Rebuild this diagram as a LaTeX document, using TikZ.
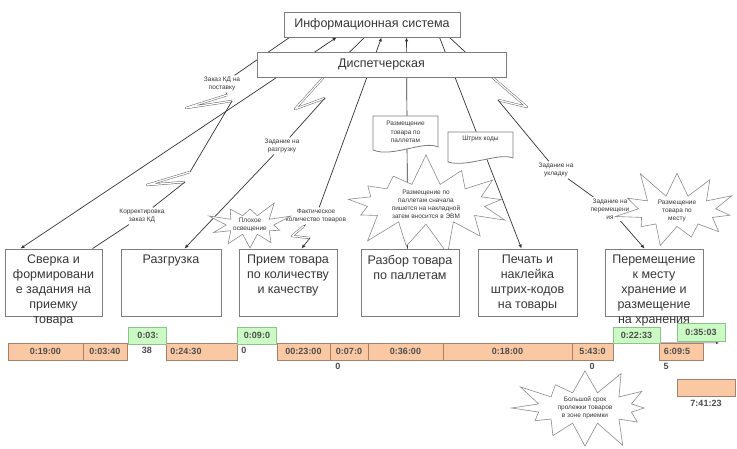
\documentclass[tikz,border=0pt]{standalone}
\usepackage{fontspec}
\setmainfont{Liberation Sans}
\usetikzlibrary{shapes.symbols,arrows.meta,calc,backgrounds}
\definecolor{peach}{RGB}{250,201,163}
\definecolor{peachline}{RGB}{160,130,110}
\definecolor{lgreen}{RGB}{204,250,196}
\definecolor{greenline}{RGB}{140,195,135}
\definecolor{boxline}{RGB}{125,125,125}
\definecolor{txt}{RGB}{55,55,55}
\begin{document}
\begin{tikzpicture}[x=1pt,y=-1pt,
  proc/.style={draw=boxline, line width=0.9pt, fill=white, inner sep=0pt},
  bigtext/.style={font=\fontsize{12.5}{15}\selectfont, text=txt},
  ptext/.style={font=\fontsize{12.5}{15}\selectfont, text=txt, align=center, anchor=north, inner sep=0pt},
  lbl/.style={font=\fontsize{6.5}{8}\selectfont, text=txt, align=center, fill=white, inner sep=1.5pt},
  conn/.style={draw=black!80, line width=0.7pt},
  zig/.style={draw=black!65, line width=0.45pt, double=white, double distance=1.3pt, line join=round},
  tipA/.style={-{Latex[length=4pt,width=3.5pt]}},
  tipB/.style={{Latex[length=4pt,width=3.5pt]}-},
  tipC/.style={{Latex[length=4pt,width=3.5pt]}-{Latex[length=4pt,width=3.5pt]}},
  burst/.style={starburst, draw=black!45, line width=0.6pt, fill=white, font=\fontsize{6.5}{8}\selectfont, text=txt, align=center, inner sep=0pt},
  docst/.style={draw=boxline, line width=0.8pt, fill=white},
  doctext/.style={font=\fontsize{6.5}{8.5}\selectfont, text=txt, align=center, inner sep=0pt},
  bar/.style={draw=peachline, line width=0.5pt, fill=peach, inner sep=0pt, minimum height=17pt, font=\bfseries\fontsize{9}{10}\selectfont, text=black!70},
  gbox/.style={draw=greenline, line width=0.5pt, fill=lgreen, inner sep=0pt, font=\bfseries\fontsize{9}{10}\selectfont, text=black!70},
  ntext/.style={font=\bfseries\fontsize{9}{10}\selectfont, text=black!70, inner sep=0pt},
]
\useasboundingbox (0,0) rectangle (737,449);

% top boxes
\node[proc, bigtext, minimum width=176pt, minimum height=25pt] (info) at (372,24.5) {Информационная система};
\node[proc, bigtext, minimum width=249pt, minimum height=25pt] (disp) at (381.5,64.5) {Диспетчерская};

% documents
\filldraw[docst] (373,116) -- (438,116) -- (438,147) .. controls (424,140) and (392,158) .. (373,150) -- cycle;
\node[doctext] (d1) at (405.5,132) {Размещение\\товара по\\паллетам};
\filldraw[docst] (448,132) -- (513,132) -- (513,158) .. controls (499,152) and (467,168) .. (448,162) -- cycle;
\node[doctext] (d2) at (480.5,139) {Штрих коды};

% labels
\node[lbl] (l1) at (222,84) {Заказ КД на\\поставку};
\node[lbl] (l2) at (142,216) {Корректировка\\заказ КД};
\node[lbl] (l3) at (282,146) {Задание на\\разгрузку};
\node[lbl] (l4) at (316,216) {Фактическое\\количество товаров};
\node[lbl] (l5) at (556,170) {Задание на\\укладку};
\node[lbl] (l6) at (610,209) {Задание на\\перемещени\\ия};

% stars
\node[burst, minimum width=182pt, minimum height=96pt, starburst points=13, starburst point height=32pt, random starburst=7] (s1) at (426,204) {Размещение по\\паллетам сначала\\пишется на накладной\\затем вносится в ЭВМ};
\node[burst, minimum width=86pt, minimum height=58pt, starburst points=10, starburst point height=20pt, random starburst=3] (s2) at (250,225) {Плохое\\освещение};
\node[burst, minimum width=138pt, minimum height=88pt, starburst points=11, starburst point height=30pt, random starburst=11] (s3) at (677,211) {Размещение\\товара по\\месту};
\node[burst, minimum width=156pt, minimum height=90pt, starburst points=12, starburst point height=30pt, random starburst=21] (s4) at (585,408) {Большой срок\\пролежки товаров\\в зоне приемки};

% process boxes
\node[proc, minimum width=97pt, minimum height=67pt] (sverka) at (53.5,282.5) {};
\node[ptext] (tsverka) at (53.5,255) {Сверка и\\формировани\\е задания на\\приемку\\товара};
\node[proc, minimum width=100pt, minimum height=67pt] (razgr) at (171,282.5) {};
\node[ptext] (trazgr) at (171,255) {Разгрузка};
\node[proc, minimum width=98pt, minimum height=67pt] (priem) at (288,282.5) {};
\node[ptext] (tpriem) at (288,255) {Прием товара\\по количеству\\и качеству};
\node[proc, minimum width=98pt, minimum height=67pt] (razbor) at (410,282.5) {};
\node[ptext] (trazbor) at (410,255) {Разбор товара\\по паллетам};
\node[proc, minimum width=99pt, minimum height=67pt] (pechat) at (527.5,282.5) {};
\node[ptext] (tpechat) at (527.5,255) {Печать и\\наклейка\\штрих-кодов\\на товары};
\node[proc, minimum width=98pt, minimum height=67pt] (perem) at (654,282.5) {};
\node[ptext] (tperem) at (654,255) {Перемещение\\к месту\\хранение и\\размещение\\на хранения};

% timeline
\node[bar, minimum width=75pt] (b1) at (45.5,351.5) {0:19:00};
\node[bar, minimum width=44pt] (b2) at (105,351.5) {0:03:40};
\node[bar, minimum width=71pt] (b3) at (201.5,351.5) {};
\node[ntext] (t3) at (186,351.5) {0:24:30};
\node[bar, minimum width=53pt] (b4) at (303.5,351.5) {00:23:00};
\node[bar, minimum width=38pt] (b5) at (349,351.5) {0:07:0};
\node[ntext] (t5) at (338,366) {0};
\node[bar, minimum width=75pt] (b6) at (405.5,351.5) {0:36:00};
\node[bar, minimum width=129pt] (b7) at (507.5,351.5) {0:18:00};
\node[bar, minimum width=41pt] (b8) at (592.5,351.5) {5:43:0};
\node[ntext] (t8) at (592,366) {0};
\node[bar, minimum width=44pt] (b9) at (681,351.5) {};
\node[ntext] (t9) at (677,351.5) {6:09:5};
\node[ntext] (t9b) at (666,366) {5};
\node[gbox, minimum width=38pt, minimum height=17pt] (g1) at (147,335.5) {};
\node[ntext] (tg1) at (148,335.5) {0:03:};
\node[ntext] (tg1b) at (147,350) {38};
\node[gbox, minimum width=39pt, minimum height=17pt] (g2) at (256.5,335.5) {};
\node[ntext] (tg2) at (257,335.5) {0:09:0};
\node[ntext] (tg2b) at (244,350) {0};
\node[gbox, minimum width=47pt, minimum height=16pt] (g3) at (636.5,335) {0:22:33};
\node[gbox, minimum width=48pt, minimum height=18pt] (g4) at (701,332) {0:35:03};
\node[bar, minimum width=58pt] (tot) at (706,387.5) {};
\node[ntext] (ttot) at (706,403) {7:41:23};
\coordinate (arrend) at (719,343);

% connectors
\begin{scope}[on background layer]
\fill[white] (0,0) rectangle (737,449);
\coordinate (iA) at ($(info.south west)+(6,0)$);
\coordinate (iB) at ($(info.south west)+(53,0)$);
\coordinate (iC) at ($(info.south west)+(81,0)$);
\coordinate (iD) at ($(info.south west)+(98,0)$);
\coordinate (iE) at ($(info.south west)+(123,0)$);
\coordinate (iF) at ($(info.south west)+(156,0)$);
\coordinate (iG) at ($(info.south west)+(166,0)$);
\coordinate (sA) at ($(sverka.north west)+(16,0)$);
\coordinate (sB) at ($(sverka.north west)+(88,0)$);
\coordinate (rA) at ($(razgr.north west)+(64,0)$);
\coordinate (pA) at ($(priem.north west)+(63,0)$);
\coordinate (zA) at ($(razbor.north west)+(47,0)$);
\coordinate (qA) at ($(pechat.north west)+(44,0)$);
\coordinate (mA) at ($(perem.north west)+(40,0)$);
% L1
\draw[conn, tipC] (iB) -- (sA);
% L2
\coordinate (z1a) at (227,95); \coordinate (z1b) at (186,108); \coordinate (z1c) at (232,101);
\coordinate (z2a) at (190,172); \coordinate (z2b) at (147,185); \coordinate (z2c) at (185,182);
\draw[conn] (iA) -- (l1);
\draw[conn] (l1) -- (z1a);
\draw[zig] (z1a) -- (z1b) -- (z1c);
\draw[conn] (z1c) -- (z2a);
\draw[zig] (z2a) -- (z2b) -- (z2c);
\draw[conn] (z2c) -- (l2);
\draw[conn] (l2) -- (sB);
% L3
\coordinate (z3a) at (323,78); \coordinate (z3b) at (295,109); \coordinate (z3c) at (325,98);
\draw[conn] (iC) -- (z3a);
\draw[zig] (z3a) -- (z3b) -- (z3c);
\draw[conn] (z3c) -- (l3);
\draw[conn, tipA] (l3) -- (rA);
% L4
\coordinate (z5a) at (304,226); \coordinate (z5b) at (292,236); \coordinate (z5c) at (310,238);
\draw[conn, tipB] (iD) -- (l4);
\draw[conn] (l4) -- (z5a);
\draw[zig] (z5a) -- (z5b) -- (z5c);
\draw[conn, tipA] (z5c) -- (pA);
% L5
\draw[conn, tipB] (iE) -- (zA);
% L6
\draw[conn, tipA] (iF) -- (qA);
% L7
\coordinate (z6a) at (492,77); \coordinate (z6b) at (527,107); \coordinate (z6c) at (498,100);
\draw[conn] (iG) -- (z6a);
\draw[zig] (z6a) -- (z6b) -- (z6c);
\draw[conn] (z6c) -- (l5);
\draw[conn] (l5) -- (l6);
\draw[conn, tipA] (l6) -- (mA);
% small arrow on timeline
\draw[black!70, line width=0.5pt, -{Latex[length=3pt,width=2.5pt]}] (b9.north west) -- (arrend);
\end{scope}
\end{tikzpicture}
\end{document}
